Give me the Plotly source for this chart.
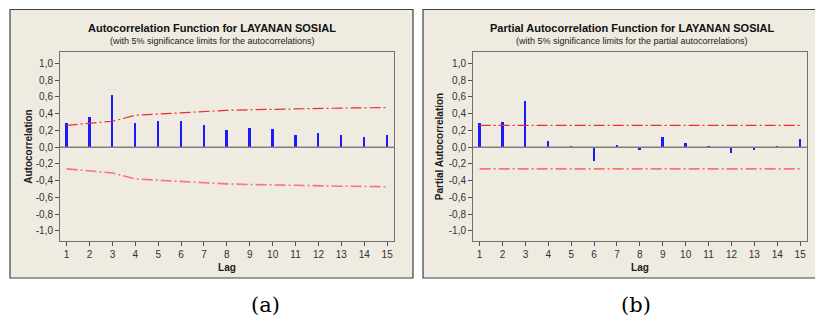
import plotly.graph_objects as go

lags = list(range(1, 16))
acf_values = [0.287, 0.359, 0.618, 0.287, 0.315, 0.307, 0.263, 0.203, 0.231, 0.215, 0.147, 0.167, 0.139, 0.116, 0.139]
acf_upper = [0.259, 0.280, 0.309, 0.380, 0.396, 0.413, 0.429, 0.439, 0.446, 0.453, 0.459, 0.463, 0.466, 0.469, 0.473]
acf_lower = [-v for v in acf_upper]
pacf_values = [0.287, 0.299, 0.554, 0.072, 0.004, -0.167, 0.024, -0.032, 0.120, 0.048, 0.002, -0.068, -0.040, 0.004, 0.092]
pacf_upper = [0.259] * 15
pacf_lower = [-0.259] * 15

y_ticks = [-1.0, -0.8, -0.6, -0.4, -0.2, 0.0, 0.2, 0.4, 0.6, 0.8, 1.0]
y_tick_labels = ["-1,0", "-0,8", "-0,6", "-0,4", "-0,2", "0,0", "0,2", "0,4", "0,6", "0,8", "1,0"]

titles = ["Autocorrelation Function for LAYANAN SOSIAL", "Partial Autocorrelation Function for LAYANAN SOSIAL"]
subtitles = ["(with 5% significance limits for the autocorrelations)",
             "(with 5% significance limits for the partial autocorrelations)"]
y_titles = ["Autocorrelation", "Partial Autocorrelation"]
captions = ["(a)", "(b)"]

W, H = 815, 320
BG = "#EFEBE1"
FONT = "Liberation Sans"

def px(x):
    return x / W

def py(y):
    return (H - y) / H

fig = go.Figure()

panels = [
    dict(vals=acf_values, up=acf_upper, lo=acf_lower, xa="x", ya="y"),
    dict(vals=pacf_values, up=pacf_upper, lo=pacf_lower, xa="x2", ya="y2"),
]

DASH = "11px,3px,2px,3px"
for p in panels:
    fig.add_trace(go.Bar(x=lags, y=p["vals"], width=0.085, marker=dict(color="#1A1AFF", line=dict(width=0)),
                         xaxis=p["xa"], yaxis=p["ya"], showlegend=False, hoverinfo="skip"))
    fig.add_trace(go.Scatter(x=lags, y=p["up"], mode="lines", line=dict(color="#E83030", width=1.2, dash=DASH),
                             xaxis=p["xa"], yaxis=p["ya"], showlegend=False, hoverinfo="skip"))
    fig.add_trace(go.Scatter(x=lags, y=p["lo"], mode="lines", line=dict(color="#F47878", width=1.6, dash=DASH),
                             xaxis=p["xa"], yaxis=p["ya"], showlegend=False, hoverinfo="skip"))

ydom = (py(241), py(52))
axis_common = dict(showgrid=False, zeroline=False, showline=True, linecolor="#707070", linewidth=1, mirror=True,
                   ticks="outside", ticklen=4, tickcolor="#505050",
                   tickfont=dict(family=FONT, size=10, color="#303040"))
title_font = dict(family=FONT, size=10, color="#202020")

layout = dict(
    width=W, height=H, margin=dict(l=0, r=0, t=0, b=0),
    paper_bgcolor="white", plot_bgcolor="white", bargap=0,
    xaxis=dict(domain=[px(60), px(394)], anchor="y", range=[0.71, 15.3], tickvals=lags,
               title=dict(text="<b>Lag</b>", font=title_font, standoff=4), **axis_common),
    yaxis=dict(domain=list(ydom), anchor="x", range=[-1.12, 1.135], tickvals=y_ticks, ticktext=y_tick_labels,
               title=dict(text="<b>" + y_titles[0] + "</b>", font=title_font, standoff=1), **axis_common),
    xaxis2=dict(domain=[px(473), px(807)], anchor="y2", range=[0.71, 15.3], tickvals=lags,
                title=dict(text="<b>Lag</b>", font=title_font, standoff=4), **axis_common),
    yaxis2=dict(domain=list(ydom), anchor="x2", range=[-1.12, 1.135], tickvals=y_ticks, ticktext=y_tick_labels,
                title=dict(text="<b>" + y_titles[1] + "</b>", font=title_font, standoff=3), **axis_common),
)

shapes = [
    dict(type="rect", xref="paper", yref="paper", x0=px(10), x1=px(413), y0=py(278), y1=py(9.5),
         line=dict(color="#404040", width=1.2), fillcolor=BG, layer="below"),
    dict(type="rect", xref="paper", yref="paper", x0=px(423), x1=px(830), y0=py(278), y1=py(9.5),
         line=dict(color="#404040", width=1.2), fillcolor=BG, layer="below"),
]
for xa, ya in [("x", "y"), ("x2", "y2")]:
    shapes.append(dict(type="line", xref=xa + " domain", yref=ya, x0=0, x1=1, y0=0, y1=0,
                       line=dict(color="#808080", width=1.5), layer="above"))
layout["shapes"] = shapes

annotations = []
centers = [212, 632]
for i in range(2):
    annotations.append(dict(x=px(centers[i]), y=py(28), xref="paper", yref="paper", text="<b>" + titles[i] + "</b>",
                            showarrow=False, font=dict(family=FONT, size=11, color="#101010"), xanchor="center", yanchor="middle"))
    annotations.append(dict(x=px(centers[i]), y=py(41), xref="paper", yref="paper", text=subtitles[i],
                            showarrow=False, font=dict(family=FONT, size=9, color="#202020"), xanchor="center", yanchor="middle"))
cap_x = [265, 636]
for i in range(2):
    annotations.append(dict(x=px(cap_x[i]), y=py(305), xref="paper", yref="paper", text=captions[i],
                            showarrow=False, font=dict(family="DejaVu Serif", size=21, color="#000000"),
                            xanchor="center", yanchor="middle"))
layout["annotations"] = annotations

fig.update_layout(**layout)
fig.write_html("out.html", config={"displayModeBar": False},
               post_script="document.body.style.margin='0';document.body.style.overflow='hidden';")
